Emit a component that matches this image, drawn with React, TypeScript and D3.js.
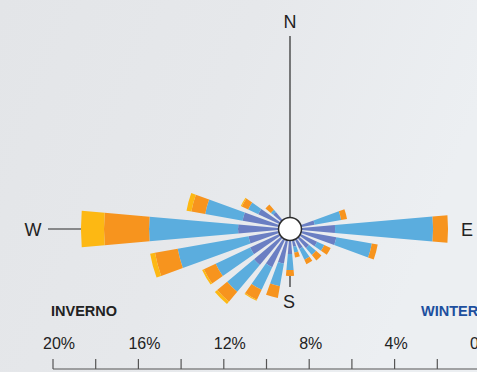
import React from "react";
import * as d3 from "d3";

const directions = [75, 90, 105, 120, 135, 150, 165, 180, 195, 210, 225, 240, 255, 270, 285, 300, 315];
const calm = [0.61, 1.55, 1.64, 0.84, 0.61, 0.47, 0.28, 0.61, 1.08, 1.41, 1.64, 1.5, 1.41, 1.87, 1.69, 1.08, 0.47];
const moderate = [1.26, 4.59, 1.69, 0.37, 0.42, 0.56, 0.28, 0.75, 1.08, 1.17, 1.64, 1.78, 3.37, 4.17, 1.78, 0.52, 0.14];
const strong = [0.28, 0.7, 0.28, 0.33, 0.33, 0.23, 0.23, 0.28, 0.56, 0.52, 0.61, 0.61, 1.08, 2.11, 0.66, 0.33, 0.33];
const veryStrong = [0, 0, 0, 0, 0, 0, 0, 0, 0, 0.05, 0.14, 0.09, 0.23, 1.08, 0.23, 0.05, 0];
const seriesColors = ["#6a7ec3", "#5badde", "#f7941e", "#fdb813"];
const axisTicks = [20, 18, 16, 14, 12, 10, 8, 6, 4, 2, 0];
const axisLabels = [20, 16, 12, 8, 4, 0];

export default function App() {
  const W = 477, H = 372;
  const cx = 290, cy = 229, r0 = 12;
  const pxPerPct = 21.35;
  const rScale = d3.scaleLinear().domain([0, 20]).range([r0, r0 + 20 * pxPerPct]);
  const xAxis = d3.scaleLinear().domain([20, 0]).range([53, 53 + 20 * pxPerPct]);
  const series = [calm, moderate, strong, veryStrong];
  const half = (5 * Math.PI) / 180;
  const arc = d3.arc<any>();

  const wedges: any[] = [];
  directions.forEach((dir, i) => {
    let cum = 0;
    const a = (dir * Math.PI) / 180;
    series.forEach((s, k) => {
      const v = s[i];
      if (v <= 0) return;
      const inner = k === 0 ? 0 : rScale(cum);
      cum += v;
      const outer = rScale(cum);
      wedges.push({
        d: arc({ innerRadius: inner, outerRadius: outer, startAngle: a - half, endAngle: a + half }),
        fill: seriesColors[k],
        key: `${dir}-${k}`,
      });
    });
  });

  const font = "'Liberation Sans', Arial, Helvetica, sans-serif";
  const axisY = 369;

  return (
    <svg width={W} height={H} style={{ position: "absolute", left: 0, top: 0, display: "block" }}>
      <defs>
        <linearGradient id="bg" x1="0" y1="0" x2="1" y2="0.3">
          <stop offset="0" stopColor="#e3e5e8" />
          <stop offset="0.5" stopColor="#e6e8eb" />
          <stop offset="1" stopColor="#eceff2" />
        </linearGradient>
      </defs>
      <rect x={0} y={0} width={W} height={H} fill="url(#bg)" />
      {/* compass lines */}
      <line x1={cx} y1={36} x2={cx} y2={287} stroke="#2b2b2b" strokeWidth={1.2} />
      <line x1={48} y1={cy} x2={cx} y2={cy} stroke="#2b2b2b" strokeWidth={1.2} />
      <g transform={`translate(${cx},${cy})`}>
        {wedges.map((w) => (
          <path key={w.key} d={w.d} fill={w.fill} />
        ))}
        <circle r={11.5} fill="#ffffff" stroke="#2b2b2b" strokeWidth={1.5} />
      </g>
      <text x={cx} y={28} textAnchor="middle" fontFamily={font} fontSize={18} fill="#222">N</text>
      <text x={cx - 1} y={308} textAnchor="middle" fontFamily={font} fontSize={18} fill="#222">S</text>
      <text x={33} y={236} textAnchor="middle" fontFamily={font} fontSize={18} fill="#222">W</text>
      <text x={467} y={236} textAnchor="middle" fontFamily={font} fontSize={18} fill="#222">E</text>
      <text x={51} y={316} fontFamily={font} fontSize={14.5} fontWeight="bold" fill="#222">INVERNO</text>
      <text x={421} y={316} fontFamily={font} fontSize={14.5} fontWeight="bold" fill="#1d4f9f">WINTER</text>
      {/* scale legend */}
      <line x1={xAxis(20)} y1={axisY} x2={W} y2={axisY} stroke="#555" strokeWidth={1.2} />
      {axisTicks.map((t) => (
        <line key={t} x1={xAxis(t)} y1={axisY - 10} x2={xAxis(t)} y2={axisY} stroke="#555" strokeWidth={1.2} />
      ))}
      {axisLabels.map((t) => (
        <text key={t} x={xAxis(t) - 10} y={349} fontFamily={font} fontSize={16} fill="#222">
          {t === 0 ? "0%" : `${t}%`}
        </text>
      ))}
    </svg>
  );
}
